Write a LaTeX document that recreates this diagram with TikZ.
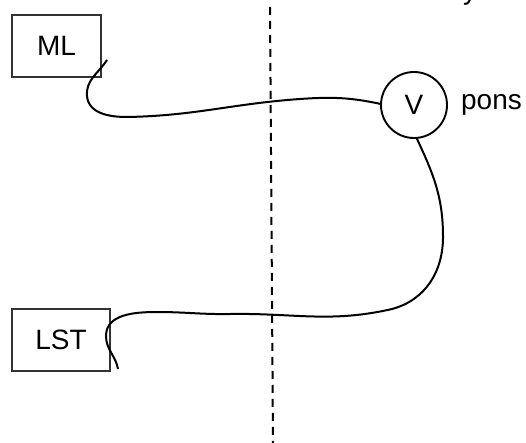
\documentclass[tikz,border=0pt]{standalone}
\usepackage{fontspec}
\setmainfont{Liberation Sans}
\usetikzlibrary{positioning}
\tikzset{
  block/.style={draw=black!80, line width=1.1pt, minimum width=89pt,
    minimum height=62pt, inner sep=0pt},
  joint/.style={draw, circle, line width=1.9pt, minimum size=66pt, inner sep=0pt},
  wire/.style={line width=2pt},
  border/.style={line width=2pt, dash pattern=on 8pt off 6pt},
}

\begin{document}
\begin{tikzpicture}[x=1pt, y=1pt, font=\fontsize{28}{34}\selectfont]
    \useasboundingbox (0,0) rectangle (526,-443);
    % define nodes
    % blocks
    \node[block] (ml) at (56.5,-46) {ML};
    \node[block, minimum width=98pt] (lst) at (61,-340) {LST};
    % joint
    \node[joint] (v) at (414,-105) {V};
    \node[right=13pt of v, inner sep=0pt] (pons) {pons};
    % cut-off text at the top
    \node[anchor=base west, inner sep=0pt] (y_top) at (463,0.5) {y};
    % cut line
    \coordinate (cut_top) at (270,-7);
    \coordinate (cut_bottom) at (273,-445);
    % upper wire
    \coordinate (ml_tail) at (107,-60);
    \coordinate (ml_loop) at (87,-96);
    \coordinate (ml_low) at (127,-117);
    \coordinate (ml_mid) at (300,-99);
    % lower wire
    \coordinate (v_side) at (443,-237);
    \coordinate (v_low) at (392,-309);
    \coordinate (lst_mid) at (230,-314);
    \coordinate (lst_top) at (157,-312);
    \coordinate (lst_loop) at (106,-336);
    \coordinate (lst_tail) at (118,-369);
    % draw diagram
    \draw[border] (cut_top) -- (cut_bottom);
    \draw[wire] (ml_tail) to[out=237,in=95] (ml_loop)
        to[out=275,in=180] (ml_low)
        to[out=1,in=184] (ml_mid)
        to[out=4,in=168] (v.178);
    \draw[wire] (v.-85) to[out=-65,in=90] (v_side)
        to[out=270,in=15] (v_low)
        to[out=193,in=1] (lst_mid)
        to[out=181,in=0] (lst_top)
        to[out=180,in=90] (lst_loop)
        to[out=270,in=100] (lst_tail);
\end{tikzpicture}
\end{document}
